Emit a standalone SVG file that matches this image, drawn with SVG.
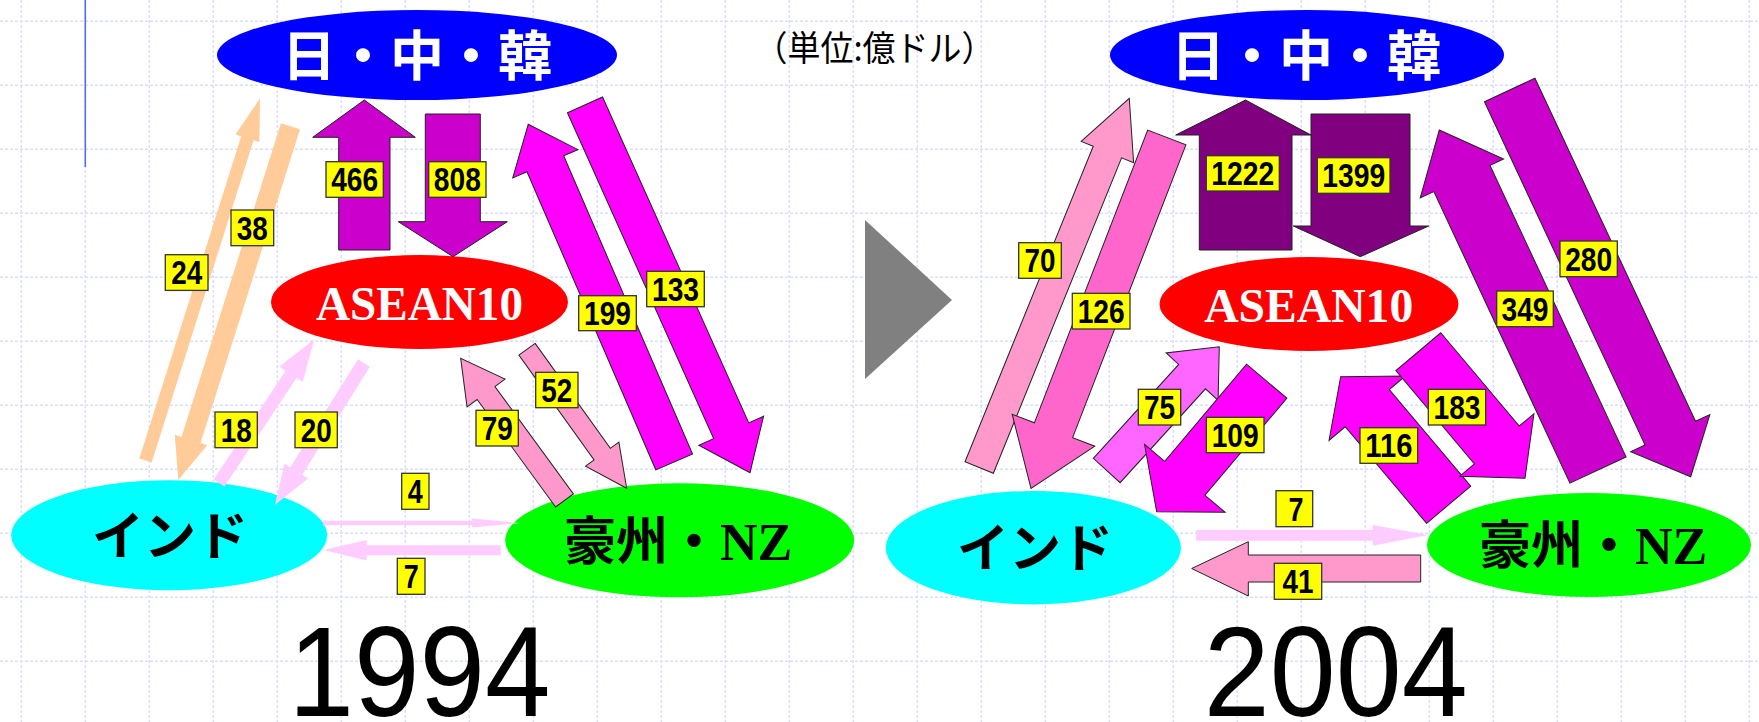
<svg xmlns="http://www.w3.org/2000/svg" width="1759" height="722" viewBox="0 0 1759 722">
<style>
.grid{fill:none;stroke:#d6e0fa;stroke-width:1.5;stroke-dasharray:3 2}
.peach{fill:#FFCC99}
.lpink{fill:#FFCCFF}
.ol{stroke:#222;stroke-width:1;stroke-linejoin:miter}
.pink{fill:#FF99CC}
.hpink{fill:#FF66CC}
.lmag{fill:#FF66FF}
.mag{fill:#FF00FF}
.pur{fill:#CC00CC}
.dpur{fill:#800080}
.lbl rect{fill:#FFFF00;stroke:#333;stroke-width:1.3}
.lbl text{font-family:"Liberation Sans Narrow","Liberation Sans",Arial,sans-serif;font-weight:bold;font-size:33px;fill:#000;text-anchor:middle}
.jp{font-family:"Noto Sans CJK JP","Noto Sans CJK SC",sans-serif;font-weight:bold}
.serif{font-family:"Liberation Serif","Times New Roman",serif;font-weight:bold}
.year{font-family:"Liberation Sans",Arial,sans-serif;font-size:128px;fill:#000;text-anchor:middle}
</style>
<rect width="1759" height="722" fill="#fff"/>
<path class="grid" d="M21.3 0V722M85.3 0V722M149.3 0V722M213.3 0V722M277.3 0V722M341.3 0V722M405.3 0V722M469.3 0V722M533.3 0V722M597.3 0V722M661.3 0V722M725.3 0V722M789.3 0V722M853.3 0V722M917.3 0V722M981.3 0V722M1045.3 0V722M1109.3 0V722M1173.3 0V722M1237.3 0V722M1301.3 0V722M1365.3 0V722M1429.3 0V722M1493.3 0V722M1557.3 0V722M1621.3 0V722M1685.3 0V722M1749.3 0V722M0 21.3H1759M0 85.3H1759M0 149.3H1759M0 213.3H1759M0 277.3H1759M0 341.3H1759M0 405.3H1759M0 469.3H1759M0 533.3H1759M0 597.3H1759M0 661.3H1759"/>
<line x1="85.3" y1="0" x2="85.3" y2="167" stroke="#4d6ff0" stroke-width="1.6"/>
<polygon points="865,220 952,300 865,379" fill="#808080"/>
<text x="874.5" y="61" font-family="Noto Sans CJK JP,Noto Sans CJK SC,sans-serif" font-size="35" fill="#000" text-anchor="middle" textLength="240" lengthAdjust="spacingAndGlyphs">（単位:億ドル）</text>

<g id="jck-1994"><ellipse cx="417" cy="55" rx="200" ry="45" fill="#0000FF"/><text x="417" y="76" class="jp" font-size="54" fill="#fff" text-anchor="middle">日・中・韓</text></g>
<g id="asean-1994"><ellipse cx="419.5" cy="302" rx="148.5" ry="47" fill="#FF0000"/><text x="419.5" y="319.5" class="serif" font-size="48" fill="#fff" text-anchor="middle" textLength="207" lengthAdjust="spacingAndGlyphs">ASEAN10</text></g>
<g id="india-1994"><ellipse cx="169.2" cy="535.3" rx="158" ry="55" fill="#00FFFF"/><text x="170" y="555" class="jp" font-size="52" fill="#000" text-anchor="middle">インド</text></g>
<g id="aunz-1994"><ellipse cx="679.7" cy="540.3" rx="174.5" ry="57" fill="#00FF00"/><text x="564" y="559.5" font-size="52" fill="#000"><tspan class="jp">豪州・</tspan><tspan class="serif">NZ</tspan></text></g>

<g id="jck-2004"><ellipse cx="1307" cy="55" rx="197" ry="45" fill="#0000FF"/><text x="1306" y="76" class="jp" font-size="54" fill="#fff" text-anchor="middle">日・中・韓</text></g>
<g id="asean-2004"><ellipse cx="1309" cy="304" rx="149.5" ry="47" fill="#FF0000"/><text x="1308.7" y="321.5" class="serif" font-size="48" fill="#fff" text-anchor="middle" textLength="209" lengthAdjust="spacingAndGlyphs">ASEAN10</text></g>
<g id="india-2004"><ellipse cx="1033.4" cy="547.7" rx="147.6" ry="56.7" fill="#00FFFF"/><text x="1035" y="567" class="jp" font-size="52" fill="#000" text-anchor="middle">インド</text></g>
<g id="aunz-2004"><ellipse cx="1589" cy="545" rx="162" ry="52" fill="#00FF00"/><text x="1479" y="563.5" font-size="52" fill="#000"><tspan class="jp">豪州・</tspan><tspan class="serif">NZ</tspan></text></g>

<g id="connectors">
<polygon class="peach" transform="translate(145.5,460.5) rotate(-72.45)" points="0,-6.5 337.9,-6.5 337.9,-12.5 379.9,0 337.9,12.5 337.9,6.5 0,6.5"/>
<polygon class="peach" transform="translate(290.5,126.3) rotate(107.6)" points="0,-10 329.1,-10 329.1,-17 371.1,0 329.1,17 329.1,10 0,10"/>
<polygon class="lpink" transform="translate(219,483) rotate(-56.45)" points="0,-6.5 130.4,-6.5 130.4,-14 172.4,0 130.4,14 130.4,6.5 0,6.5"/>
<polygon class="lpink" transform="translate(364,363) rotate(122.1)" points="0,-7 127.6,-7 127.6,-14 167.6,0 127.6,14 127.6,7 0,7"/>
<polygon class="lpink" points="323,520.7 472,520.7 472,518.5 520,523 472,527.5 472,525.3 323,525.3"/>
<polygon class="lpink" points="500.7,545.3 366.7,545.3 366.7,540 323.3,550 366.7,560.5 366.7,555.3 500.7,555.3"/>
<polygon class="pur ol" points="338.7,250 338.7,137.3 312.7,137.3 364.3,100 415.3,137.3 390,137.3 390,250"/>
<polygon class="pur ol" points="425.3,114 480.3,114 480.3,221.7 507.3,221.7 453,256.7 398.3,221.7 425.3,221.7"/>
<polygon class="mag ol" transform="translate(674.2,462) rotate(-113.37)" points="0,-20 324.9,-20 324.9,-35.5 367.9,0 324.9,35.5 324.9,20 0,20"/>
<polygon class="mag ol" transform="translate(585,104.8) rotate(65.84)" points="0,-19.25 357.2,-19.25 357.2,-35.5 403.2,0 357.2,35.5 357.2,19.25 0,19.25"/>
<polygon class="pink ol" transform="translate(564.5,500.5) rotate(-126.13)" points="0,-11 133.1,-11 133.1,-23.5 176.1,0 133.1,23.5 133.1,11 0,11"/>
<polygon class="pink ol" transform="translate(527,349.2) rotate(54.37)" points="0,-10 129.1,-10 129.1,-20.5 171.1,0 129.1,20.5 129.1,10 0,10"/>

<polygon class="pink ol" transform="translate(979.2,467.5) rotate(-67.88)" points="0,-15.3 340.5,-15.3 340.5,-28.3 398.5,0 340.5,28.3 340.5,15.3 0,15.3"/>
<polygon class="hpink ol" transform="translate(1166.8,137.5) rotate(111.16)" points="0,-20.5 313.9,-20.5 313.9,-44.3 376.2,0 313.9,44.3 313.9,20.5 0,20.5"/>
<polygon class="lmag ol" transform="translate(1106.7,470.5) rotate(-47.71)" points="0,-18.1 126.9,-18.1 126.9,-35.15 167.3,0 126.9,35.15 126.9,18.1 0,18.1"/>
<polygon class="mag ol" transform="translate(1266.7,381.2) rotate(130.13)" points="0,-26.35 127,-26.35 127,-52.75 170.7,0 127,52.75 127,26.35 0,26.35"/>
<polygon class="dpur ol" points="1199.3,250 1199.3,135 1175.7,135 1245.5,100 1311,135 1292,135 1292,250"/>
<polygon class="dpur ol" points="1311,114 1410,114 1410,226 1428.7,226 1360.3,256.7 1293.3,226 1311,226"/>
<polygon class="pur ol" transform="translate(1598,470) rotate(-115.02)" points="0,-31 321.7,-31 321.7,-46 375.2,0 321.7,46 321.7,31 0,31"/>
<polygon class="pur ol" transform="translate(1509.7,90) rotate(64.92)" points="0,-27.9 378.8,-27.9 378.8,-43.7 427,0 378.8,43.7 378.8,27.9 0,27.9"/>
<polygon class="mag ol" transform="translate(1448.7,504.7) rotate(-130.16)" points="0,-28.85 126.3,-28.85 126.3,-50 167.5,0 126.3,50 126.3,28.85 0,28.85"/>
<polygon class="mag ol" transform="translate(1418.3,351.7) rotate(49.88)" points="0,-29.35 121.9,-29.35 121.9,-48.5 165.6,0 121.9,48.5 121.9,29.35 0,29.35"/>
<polygon class="lpink" points="1196,530 1372.7,530 1372.7,525 1428.3,535 1372.7,545.7 1372.7,540.7 1196,540.7"/>
<polygon class="pink ol" points="1420.7,555 1248.3,555 1248.3,541.7 1191.7,568.5 1248.3,596 1248.3,582 1420.7,582"/>
</g>

<g id="labels">
<g class="lbl"><rect x="326" y="161.7" width="57.3" height="35.6"/><text x="354.65" y="191.3" textLength="47" lengthAdjust="spacingAndGlyphs">466</text></g>
<g class="lbl"><rect x="428.7" y="161.7" width="57.3" height="35.6"/><text x="457.35" y="191.3" textLength="47" lengthAdjust="spacingAndGlyphs">808</text></g>
<g class="lbl"><rect x="231" y="210" width="42.7" height="35.7"/><text x="252.35" y="239.7" textLength="31" lengthAdjust="spacingAndGlyphs">38</text></g>
<g class="lbl"><rect x="165.3" y="254.7" width="42.7" height="35.7"/><text x="186.65" y="284.4" textLength="31" lengthAdjust="spacingAndGlyphs">24</text></g>
<g class="lbl"><rect x="215" y="412" width="42.3" height="35.7"/><text x="236.15" y="441.7" textLength="31" lengthAdjust="spacingAndGlyphs">18</text></g>
<g class="lbl"><rect x="295" y="412" width="42.3" height="35.7"/><text x="316.15" y="441.7" textLength="31" lengthAdjust="spacingAndGlyphs">20</text></g>
<g class="lbl"><rect x="578.7" y="295.7" width="57.6" height="35"/><text x="607.5" y="325" textLength="47" lengthAdjust="spacingAndGlyphs">199</text></g>
<g class="lbl"><rect x="646.7" y="271.3" width="57.6" height="35.4"/><text x="675.5" y="300.8" textLength="47" lengthAdjust="spacingAndGlyphs">133</text></g>
<g class="lbl"><rect x="535.7" y="372.3" width="42.3" height="35.4"/><text x="556.85" y="401.8" textLength="31" lengthAdjust="spacingAndGlyphs">52</text></g>
<g class="lbl"><rect x="476" y="410.3" width="42.3" height="35.7"/><text x="497.15" y="440" textLength="31" lengthAdjust="spacingAndGlyphs">79</text></g>
<g class="lbl"><rect x="401.7" y="473.3" width="27.3" height="36"/><text x="415.35" y="503.1" textLength="15" lengthAdjust="spacingAndGlyphs">4</text></g>
<g class="lbl"><rect x="397.3" y="558.3" width="27.7" height="36"/><text x="411.15" y="588.1" textLength="15" lengthAdjust="spacingAndGlyphs">7</text></g>
<g class="lbl"><rect x="1206.3" y="155.7" width="73" height="35.3"/><text x="1242.8" y="185.1" textLength="63" lengthAdjust="spacingAndGlyphs">1222</text></g>
<g class="lbl"><rect x="1317.3" y="157.7" width="72.7" height="35.6"/><text x="1353.65" y="187.3" textLength="63" lengthAdjust="spacingAndGlyphs">1399</text></g>
<g class="lbl"><rect x="1018.7" y="242.7" width="42.6" height="35.6"/><text x="1040" y="272.3" textLength="31" lengthAdjust="spacingAndGlyphs">70</text></g>
<g class="lbl"><rect x="1072.3" y="293.3" width="57.7" height="35.7"/><text x="1101.15" y="323" textLength="47" lengthAdjust="spacingAndGlyphs">126</text></g>
<g class="lbl"><rect x="1138.3" y="389.3" width="42.4" height="35.7"/><text x="1159.5" y="419" textLength="31" lengthAdjust="spacingAndGlyphs">75</text></g>
<g class="lbl"><rect x="1206.3" y="417.3" width="57.7" height="35.4"/><text x="1235.15" y="446.8" textLength="47" lengthAdjust="spacingAndGlyphs">109</text></g>
<g class="lbl"><rect x="1560" y="241" width="57.3" height="35.7"/><text x="1588.65" y="270.7" textLength="47" lengthAdjust="spacingAndGlyphs">280</text></g>
<g class="lbl"><rect x="1496.7" y="291" width="56.6" height="35.7"/><text x="1525" y="320.7" textLength="47" lengthAdjust="spacingAndGlyphs">349</text></g>
<g class="lbl"><rect x="1428.3" y="389.3" width="57.4" height="35.7"/><text x="1457" y="419" textLength="47" lengthAdjust="spacingAndGlyphs">183</text></g>
<g class="lbl"><rect x="1360" y="427.7" width="57.7" height="35.6"/><text x="1388.85" y="457.3" textLength="47" lengthAdjust="spacingAndGlyphs">116</text></g>
<g class="lbl"><rect x="1276" y="490.7" width="36.7" height="36"/><text x="1296" y="520.5" textLength="15" lengthAdjust="spacingAndGlyphs">7</text></g>
<g class="lbl"><rect x="1274.3" y="563.3" width="47.4" height="36"/><text x="1298" y="593.1" textLength="31" lengthAdjust="spacingAndGlyphs">41</text></g>
</g>

<text class="year" x="419.5" y="715.5" textLength="262" lengthAdjust="spacingAndGlyphs">1994</text>
<text class="year" x="1335.8" y="716" textLength="264" lengthAdjust="spacingAndGlyphs">2004</text>
</svg>
